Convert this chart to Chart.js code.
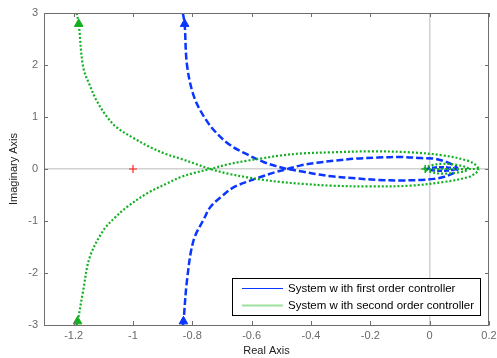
<!DOCTYPE html>
<html>
<head>
<meta charset="utf-8">
<script src="https://cdn.jsdelivr.net/npm/chart.js@4"></script>
<style>
html,body{margin:0;padding:0;background:#fff;}
#wrap{width:497px;height:358px;position:relative;}
</style>
</head>
<body>
<div id="wrap"><canvas id="c" width="497" height="358"></canvas></div>
<script>
// ---- data ----
const xTickValues = [-1.2, -1, -0.8, -0.6, -0.4, -0.2, 0, 0.2];
const yTickValues = [-3, -2, -1, 0, 1, 2, 3];

// first order controller (blue, dashed)
const blueUpRe = [-0.832,-0.826,-0.818,-0.795,-0.76,-0.72,-0.67,-0.615,-0.558,-0.52,-0.479,-0.43,-0.38,-0.33,-0.25,-0.174,-0.095,-0.03,0.014,0.05,0.072,0.088,0.095];
const blueUpIm = [3.0,2.79,2.0,1.4,1.0,0.7,0.45,0.28,0.13,0.06,0.0,-0.05,-0.1,-0.14,-0.18,-0.21,-0.22,-0.21,-0.19,-0.15,-0.1,-0.05,0.0];
const blueLoRe = [-0.832,-0.83,-0.818,-0.796,-0.76,-0.739,-0.7,-0.66,-0.603,-0.558,-0.52,-0.479,-0.434,-0.38,-0.322,-0.25,-0.174,-0.095,-0.03,0.014,0.05,0.071,0.088,0.095];
const blueLoIm = [-3.0,-2.95,-2.14,-1.375,-0.95,-0.73,-0.52,-0.35,-0.22,-0.13,-0.06,0.0,0.07,0.12,0.16,0.2,0.22,0.23,0.21,0.2,0.15,0.1,0.05,0.0];
const blueInRe = [0.095,0.06,0.02,-0.01,0.02,0.06,0.095];
const blueInIm = [0.0,0.03,0.03,0.0,-0.03,-0.03,0.0];

// second order controller (green, dotted)
const greenUpRe = [-1.19,-1.183,-1.168,-1.145,-1.123,-1.09,-1.055,-1.0,-0.942,-0.89,-0.841,-0.79,-0.739,-0.68,-0.615,-0.56,-0.502,-0.43,-0.332,-0.2,-0.064,0.047,0.128,0.155,0.166];
const greenUpIm = [3.0,2.79,1.96,1.6,1.32,1.02,0.8,0.6,0.42,0.29,0.2,0.1,0.0,-0.09,-0.16,-0.21,-0.25,-0.285,-0.32,-0.335,-0.32,-0.25,-0.16,-0.08,0.0];
const greenLoRe = [-1.19,-1.187,-1.168,-1.146,-1.1,-1.06,-1.02,-0.95,-0.886,-0.841,-0.79,-0.739,-0.68,-0.615,-0.56,-0.502,-0.43,-0.332,-0.2,-0.064,0.047,0.128,0.155,0.166];
const greenLoIm = [-3.0,-2.95,-2.34,-1.7,-1.18,-0.93,-0.73,-0.46,-0.28,-0.16,-0.07,0.0,0.09,0.16,0.21,0.26,0.3,0.32,0.34,0.32,0.26,0.16,0.08,0.0];
const greenInRe = [0.166,0.1,0.04,-0.02,0.0,0.04,0.09,0.125,0.13,0.125,0.09,0.04,0.0,-0.02];
const greenInIm = [0.0,0.0,0.0,0.0,0.06,0.1,0.08,0.03,0.0,-0.03,-0.07,-0.09,-0.05,0.0];

// markers
const blueArrowRe = [-0.826, -0.83];
const blueArrowIm = [2.79, -2.93];
const greenArrowRe = [-1.183, -1.187];
const greenArrowIm = [2.79, -2.93];
const redPoleRe = [-1.0];
const redPoleIm = [0.0];
const greenPoleRe = [-0.015];
const greenPoleIm = [0.0];

const legendLabels = ['System w ith first order controller', 'System w ith second order controller'];

// ---- styles ----
const BLUE = '#0a36ff';
const GREEN = '#12b020';
const FONT = '"Liberation Sans", Arial, sans-serif';

function pts(re, im){ return re.map((r,i)=>({x:r, y:im[i]})); }

function curve(re, im, color, dash, width){
  return { data: pts(re, im), showLine: true, borderColor: color, backgroundColor: color,
           borderWidth: width, borderDash: dash, pointRadius: 0, tension: 0.35, fill: false };
}
function marks(re, im, color, style, r, bw){
  return { data: pts(re, im), showLine: false, pointStyle: style, pointRadius: r,
           pointBorderColor: color, pointBackgroundColor: color, pointBorderWidth: bw || 1,
           borderColor: color, backgroundColor: color };
}

const frame = {
  id: 'frame',
  afterDraw(chart){
    const {ctx, chartArea: a, scales: {x, y}} = chart;
    ctx.save();
    ctx.strokeStyle = '#6e6e6e';
    ctx.lineWidth = 1;
    ctx.strokeRect(a.left + 0.5, a.top + 0.5, a.right - a.left - 1, a.bottom - a.top);
    ctx.beginPath();
    const L = 4;
    xTickValues.forEach(v => {
      const px = Math.round(x.getPixelForValue(v)) + 0.5;
      ctx.moveTo(px, a.bottom); ctx.lineTo(px, a.bottom - L);
      ctx.moveTo(px, a.top); ctx.lineTo(px, a.top + L);
    });
    yTickValues.forEach(v => {
      const py = Math.round(y.getPixelForValue(v)) + 0.5;
      ctx.moveTo(a.left, py); ctx.lineTo(a.left + L, py);
      ctx.moveTo(a.right, py); ctx.lineTo(a.right - L, py);
    });
    ctx.stroke();

    // legend box
    const bx = 232.5, by = 278.5, bw = 248, bh = 37;
    ctx.fillStyle = '#fff';
    ctx.fillRect(bx, by, bw, bh);
    ctx.strokeStyle = '#000';
    ctx.lineWidth = 1;
    ctx.strokeRect(bx, by, bw, bh);
    const rows = [{y: 288.5, c: BLUE, w: 1}, {y: 305.5, c: '#9ee09e', w: 2}];
    ctx.font = '11.5px ' + FONT;
    ctx.textBaseline = 'middle';
    ctx.textAlign = 'left';
    rows.forEach((r, i) => {
      ctx.beginPath();
      ctx.strokeStyle = r.c; ctx.lineWidth = r.w;
      ctx.moveTo(242, r.y); ctx.lineTo(283, r.y);
      ctx.stroke();
      ctx.fillStyle = '#000';
      ctx.fillText(legendLabels[i], 288, r.y);
    });
    ctx.restore();
  }
};

const gridColor = c => (Math.abs(c.tick.value) < 1e-9 ? '#d2d2d2' : 'rgba(0,0,0,0)');
const fmt = v => String(Number(Number(v).toFixed(1)));

new Chart(document.getElementById('c'), {
  type: 'scatter',
  data: {
    datasets: [
      curve(greenUpRe, greenUpIm, GREEN, [2,2], 2.2),
      curve(greenLoRe, greenLoIm, GREEN, [2,2], 2.2),
      curve(greenInRe, greenInIm, GREEN, [2,2], 2.2),
      curve(blueUpRe, blueUpIm, BLUE, [7,3], 2.5),
      curve(blueLoRe, blueLoIm, BLUE, [7,3], 2.5),
      curve(blueInRe, blueInIm, BLUE, [5,2], 2.5),
      marks(blueArrowRe, blueArrowIm, BLUE, 'triangle', 5),
      marks(greenArrowRe, greenArrowIm, GREEN, 'triangle', 5),
      marks(redPoleRe, redPoleIm, '#ff2020', 'cross', 4, 1.2),
      marks(greenPoleRe, greenPoleIm, GREEN, 'cross', 4, 1.5)
    ]
  },
  options: {
    responsive: false,
    animation: false,
    layout: { padding: { left: 0, right: 0, top: 13, bottom: 0 } },
    plugins: { legend: { display: false }, tooltip: { enabled: false } },
    scales: {
      x: {
        type: 'linear', min: -1.3, max: 0.2,
        afterFit: s => { s.height = 33; s.paddingRight = 8; s.paddingLeft = 0; },
        ticks: { stepSize: 0.2, includeBounds: false, padding: 4, color: '#6a6a6a',
                 font: { family: FONT, size: 11 }, callback: fmt, maxRotation: 0, autoSkip: false },
        grid: { color: gridColor, lineWidth: 1.5, drawTicks: false },
        border: { display: true, color: '#6e6e6e', width: 1 },
        title: { display: true, text: 'Real Axis', color: '#222', font: { family: FONT, size: 11 },
                 padding: { top: 0, bottom: 0 } }
      },
      y: {
        type: 'linear', min: -3, max: 3,
        afterFit: s => { s.width = 44; s.paddingTop = 0; s.paddingBottom = 0; },
        ticks: { stepSize: 1, includeBounds: false, padding: 6, color: '#6a6a6a',
                 font: { family: FONT, size: 11 }, callback: fmt, autoSkip: false },
        grid: { color: gridColor, lineWidth: 1.5, drawTicks: false },
        border: { display: true, color: '#6e6e6e', width: 1 },
        title: { display: true, text: 'Imaginary Axis', color: '#222', font: { family: FONT, size: 11 },
                 padding: { top: 7, bottom: 0 } }
      }
    }
  },
  plugins: [frame]
});
</script>
</body>
</html>
